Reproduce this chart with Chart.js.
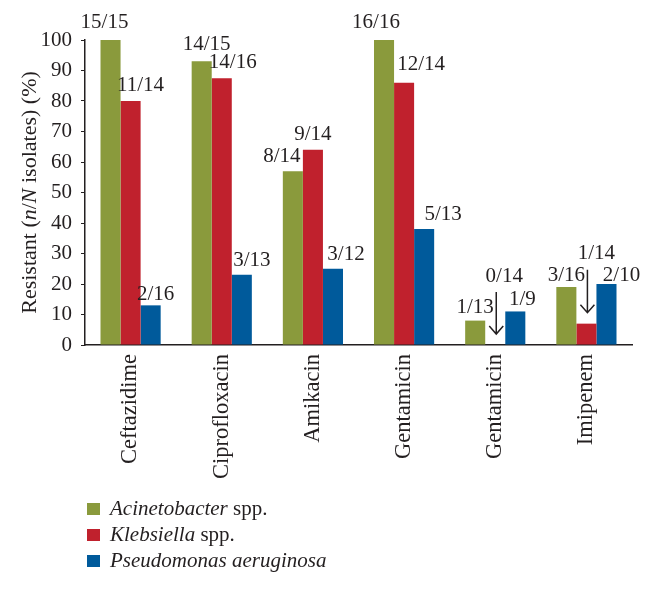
<!DOCTYPE html>
<html>
<head>
<meta charset="utf-8">
<script src="https://cdn.jsdelivr.net/npm/chart.js@4/dist/chart.umd.min.js"></script>
<style>
  html, body { margin: 0; padding: 0; background: #fff; }
  #wrap { width: 654px; height: 589px; }
</style>
</head>
<body>
<div id="wrap"><canvas id="myChart" width="654" height="589"></canvas></div>
<script>
const drugs = ['Ceftazidime', 'Ciprofloxacin', 'Amikacin', 'Gentamicin', 'Gentamicin', 'Imipenem']
const species = ['Acinetobacter', 'Klebsiella', 'Pseudomonas aeruginosa']
const acinetobacter = [100, 93, 57, 100, 8, 19]
const klebsiella = [80, 87.5, 64, 86, 0, 7]
const pseudomonas = [13, 23, 25, 38, 11, 20]
const acinetobacterN = ['15/15', '14/15', '8/14', '16/16', '1/13', '3/16']
const klebsiellaN = ['11/14', '14/16', '9/14', '12/14', '0/14', '1/14']
const pseudomonasN = ['2/16', '3/13', '3/12', '5/13', '1/9', '2/10']
const yTicks = [0, 10, 20, 30, 40, 50, 60, 70, 80, 90, 100]

// label nudges (px) so the n/N text sits like the original
const labelDx = [[-6, 5, -11, -8, 0, 0], [10, 11, 0, 17, 9, 10], [5, 10, 13, 19, 7, 15]]
const labelDy = [[-18, -17, -15, -18, -13, -12], [-16, -16, -15, -18, -69, -70], [-11, -14, -14, -15, -12, -9]]
const arrowed = [[0, 0, 0, 0, 0, 0], [0, 0, 0, 0, 1, 1], [0, 0, 0, 0, 0, 0]]

const colors = ['#8a9a3c', '#c0212d', '#005a9b']
const ink = '#231f20'
const serif = '"Liberation Serif", "Times New Roman", serif'

const annotate = {
    id: 'annotate',
    afterDraw(chart) {
        const ctx = chart.ctx
        const area = chart.chartArea
        const labels = [acinetobacterN, klebsiellaN, pseudomonasN]
        ctx.save()
        ctx.fillStyle = ink
        ctx.strokeStyle = ink
        ctx.font = '21px ' + serif
        ctx.textAlign = 'center'
        ctx.textBaseline = 'middle'
        chart.data.datasets.forEach((ds, i) => {
            chart.getDatasetMeta(i).data.forEach((bar, j) => {
                const ty = bar.y + labelDy[i][j]
                ctx.fillText(labels[i][j], bar.x + labelDx[i][j], ty)
                if (arrowed[i][j]) {
                    const ax = bar.x + 1
                    const y0 = ty + 16
                    const y1 = bar.y - 11
                    ctx.lineWidth = 1.5
                    ctx.beginPath()
                    ctx.moveTo(ax, y0)
                    ctx.lineTo(ax, y1)
                    ctx.moveTo(ax - 7, y1 - 8)
                    ctx.lineTo(ax, y1)
                    ctx.lineTo(ax + 7, y1 - 8)
                    ctx.stroke()
                }
            })
        })

        // y axis title with italic n and N
        const parts = [['Resistant (', ''], ['n', 'italic '], ['/', ''], ['N', 'italic '], [' isolates) (%)', '']]
        let total = 0
        const widths = parts.map(p => {
            ctx.font = p[1] + '22px ' + serif
            const w = ctx.measureText(p[0]).width
            total += w
            return w
        })
        ctx.translate(30, (area.top + area.bottom) / 2)
        ctx.rotate(-Math.PI / 2)
        ctx.textAlign = 'left'
        let x = -total / 2
        parts.forEach((p, k) => {
            ctx.font = p[1] + '22px ' + serif
            ctx.fillText(p[0], x, 0)
            x += widths[k]
        })
        ctx.setTransform(1, 0, 0, 1, 0, 0)

        // legend
        const rows = [[['Acinetobacter', 'italic '], [' spp.', '']], [['Klebsiella', 'italic '], [' spp.', '']], [['Pseudomonas aeruginosa', 'italic ']]]
        rows.forEach((row, k) => {
            const cy = area.bottom + 164 + k * 26
            ctx.fillStyle = colors[k]
            ctx.fillRect(area.left + 2, cy - 6, 13, 12)
            ctx.fillStyle = ink
            let lx = area.left + 25
            row.forEach(seg => {
                ctx.font = seg[1] + '21px ' + serif
                ctx.fillText(seg[0], lx, cy)
                lx += ctx.measureText(seg[0]).width
            })
        })
        ctx.restore()
    },
}

new Chart(document.getElementById('myChart'), {
    type: 'bar',
    data: {
        labels: drugs,
        datasets: [
            { label: species[0], data: acinetobacter, backgroundColor: colors[0] },
            { label: species[1], data: klebsiella, backgroundColor: colors[1] },
            { label: species[2], data: pseudomonas, backgroundColor: colors[2] },
        ],
    },
    options: {
        responsive: false,
        animation: false,
        layout: { padding: { top: 40, right: 22, left: 0, bottom: 109 } },
        plugins: { legend: { display: false }, tooltip: { enabled: false } },
        datasets: { bar: { categoryPercentage: 0.66, barPercentage: 1 } },
        scales: {
            x: {
                afterFit: (s) => { s.height = 135 },
                grid: { display: true, drawOnChartArea: false, drawTicks: false },
                border: { color: ink, width: 1.5 },
                ticks: { color: ink, font: { family: serif, size: 22.5 }, minRotation: 90, maxRotation: 90, padding: 9, autoSkip: false },
            },
            y: {
                min: 0,
                max: 100,
                afterFit: (s) => { s.width = 85 },
                afterBuildTicks: (s) => { s.ticks = yTicks.map(v => ({ value: v })) },
                grid: { display: true, drawOnChartArea: false, tickLength: 4, color: ink },
                border: { color: ink, width: 1.5 },
                ticks: { color: ink, font: { family: serif, size: 21 }, padding: 9 },
            },
        },
    },
    plugins: [annotate],
})
</script>
</body>
</html>
